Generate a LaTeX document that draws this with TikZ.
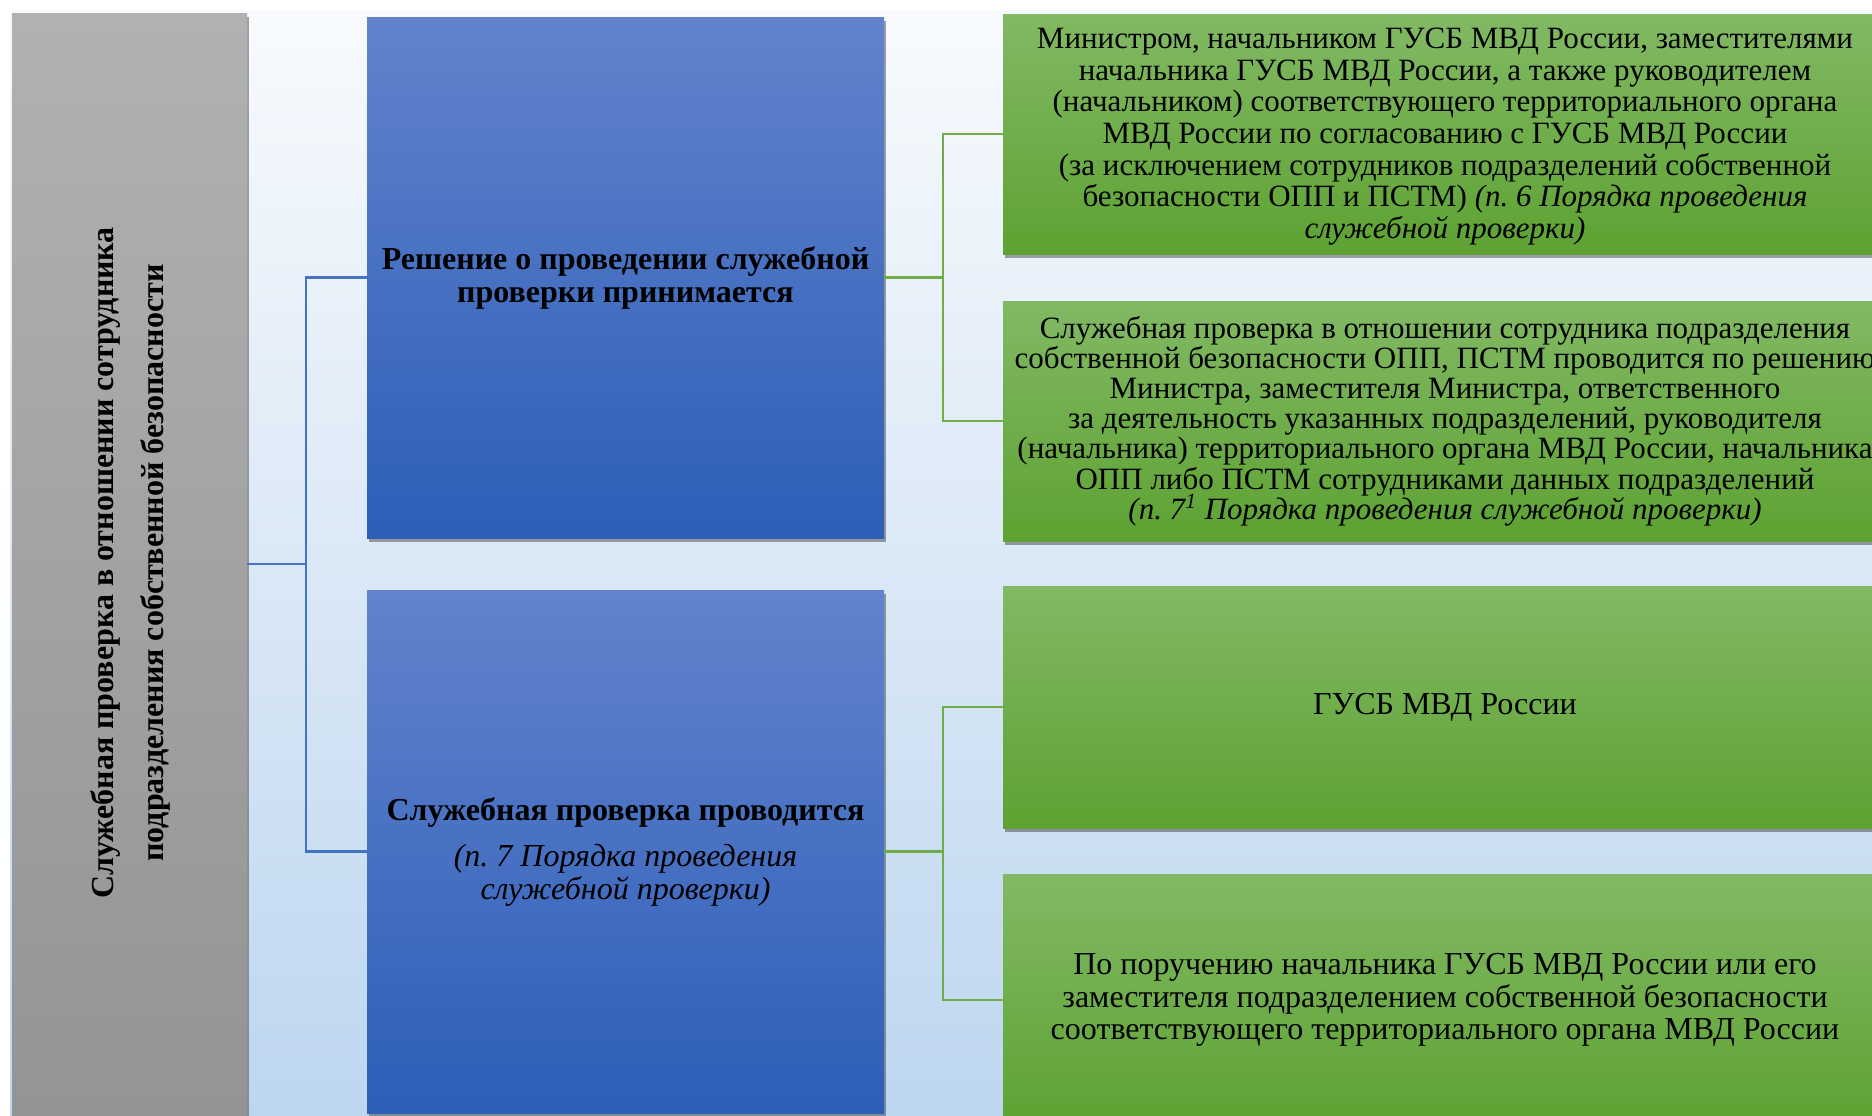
\documentclass[tikz,border=0pt]{standalone}
\usepackage{fontspec}
\setmainfont{Liberation Serif}
\usetikzlibrary{shadows}
\definecolor{bgtop}{HTML}{F8FAFD}
\definecolor{bgmid}{HTML}{D6E5F4}
\definecolor{bgbot}{HTML}{BDD6EF}
\definecolor{greytop}{HTML}{B1B1B1}
\definecolor{greybot}{HTML}{949494}
\definecolor{bluetop}{HTML}{6283CC}
\definecolor{bluebot}{HTML}{2D5EB8}
\definecolor{greentop}{HTML}{82B964}
\definecolor{greenbot}{HTML}{5DA232}
\definecolor{blueline}{HTML}{4472C4}
\definecolor{greenline}{HTML}{70AD47}
\tikzset{
  bgbox/.style={draw=none, rectangle, inner sep=0pt, top color=bgtop, middle color=bgmid, bottom color=bgbot},
  shadowed/.style={drop shadow={shadow xshift=1.2pt, shadow yshift=-2pt, opacity=0.45, fill=black!80}},
  greybox/.style={rectangle, inner sep=0pt, top color=greytop, bottom color=greybot, shadowed},
  bluebox/.style={rectangle, inner sep=0pt, top color=bluetop, bottom color=bluebot, shadowed, minimum width=258.5pt, align=center},
  greenbox/.style={rectangle, inner sep=0pt, top color=greentop, bottom color=greenbot, shadowed, minimum width=442pt, align=center},
  bconn/.style={draw=blueline, line width=1.25pt},
  gconn/.style={draw=greenline, line width=1.25pt},
}
\begin{document}
\frenchspacing
\begin{tikzpicture}[x=0.5pt, y=-0.5pt]
\useasboundingbox (0,0) rectangle (1872,1115);
\node[bgbox, minimum width=931pt, minimum height=552.5pt] (bg) at (941,562.5) {};

\node[greybox, minimum width=117.5pt, minimum height=551pt] (grey) at (129.5,564) {};
\node[rotate=90, align=center, font=\fontsize{16}{25}\selectfont\bfseries] (greytext) at (130,563)
  {Служебная проверка в отношении сотрудника\\подразделения собственной безопасности};

\node[bluebox, minimum height=260.5pt, font=\fontsize{16}{16.5}\selectfont] (b1) at (625.5,277.5)
  {\bfseries Решение о проведении служебной\\\bfseries проверки принимается};
\node[bluebox, minimum height=261.5pt, font=\fontsize{16}{16.5}\selectfont] (b2) at (625.5,851.5)
  {\textbf{Служебная проверка проводится}\\[6.5pt]\textit{(п. 7 Порядка проведения}\\\textit{служебной проверки)}};

\node[greenbox, minimum height=120pt, font=\fontsize{15.5}{15.85}\selectfont] (g1) at (1445,134)
  {\rule{0pt}{12.9pt}Министром, начальником ГУСБ МВД России, заместителями\\
   начальника ГУСБ МВД России, а также руководителем\\
   (начальником) соответствующего территориального органа\\
   МВД России по согласованию с ГУСБ МВД России\\
   (за исключением сотрудников подразделений собственной\\
   безопасности ОПП и ПСТМ) \textit{(п. 6 Порядка проведения}\\
   \textit{служебной проверки)}};
\node[greenbox, minimum height=120pt, font=\fontsize{15.5}{15.1}\selectfont] (g2) at (1445,421)
  {Служебная проверка в отношении сотрудника подразделения\\
   собственной безопасности ОПП, ПСТМ проводится по решению\\
   Министра, заместителя Министра, ответственного\\
   за деятельность указанных подразделений, руководителя\\
   (начальника) территориального органа МВД России, начальника\\
   ОПП либо ПСТМ сотрудниками данных подразделений\\
   \textit{(п. 7\smash{\textsuperscript{1}} Порядка проведения служебной проверки)}};
\node[greenbox, minimum height=121pt, font=\fontsize{16}{16.5}\selectfont] (g3) at (1445,707)
  {ГУСБ МВД России};
\node[greenbox, minimum height=126pt, font=\fontsize{16}{16.3}\selectfont] (g4) at (1445,1000)
  {По поручению начальника ГУСБ МВД России или его\\
   заместителя подразделением собственной безопасности\\
   соответствующего территориального органа МВД России};

\coordinate (bj) at (306,564);
\coordinate (gj1) at (943,277.5);
\coordinate (gj2) at (943,851.5);

\draw[bconn] (grey.east) -- (bj);
\draw[bconn] (b1.west) -| (bj);
\draw[bconn] (b2.west) -| (bj);

\draw[gconn] (b1.east) -- (gj1);
\draw[gconn] (g1.west) -| (gj1);
\draw[gconn] (g2.west) -| (gj1);

\draw[gconn] (b2.east) -- (gj2);
\draw[gconn] (g3.west) -| (gj2);
\draw[gconn] (g4.west) -| (gj2);
\end{tikzpicture}
\end{document}
